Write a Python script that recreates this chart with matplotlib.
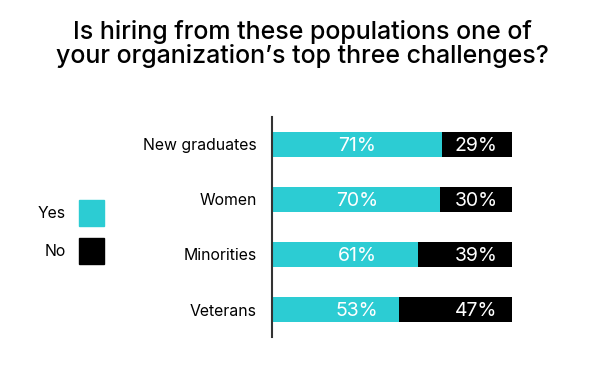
import matplotlib
matplotlib.use("Agg")
import matplotlib.pyplot as plt
from matplotlib.patches import Rectangle

plt.rcParams['font.family'] = ['Inter', 'DejaVu Sans']

# Данные
categories = ["New graduates", "Women", "Minorities", "Veterans"]
yes_values = [71, 70, 61, 53]
no_values = [29, 30, 39, 47]
series_names = ["Yes", "No"]

cyan = '#2CCCD3'
black = '#000000'
colors = [cyan, black]

fig = plt.figure(figsize=(6.05, 3.72), dpi=100)
ax = fig.add_axes([272 / 605, 1 - 337 / 372, 240 / 605, 220 / 372])

y = range(len(categories))
ax.barh(y, yes_values, height=0.45, color=cyan)
ax.barh(y, no_values, left=yes_values, height=0.45, color=black)

# Подписи процентов (фиксированные позиции)
for i in y:
    ax.text(35.5, i + 0.03, f"{yes_values[i]}%", color='white', fontsize=14,
            ha='center', va='center')
    ax.text(85, i + 0.03, f"{no_values[i]}%", color='white', fontsize=14,
            ha='center', va='center')

ax.set_xlim(0, 100)
ax.set_ylim(3.5, -0.5)
ax.set_yticks(list(y))
ax.set_yticklabels(categories, fontsize=11.4)
ax.tick_params(axis='y', length=0, pad=11)
ax.set_xticks([])
for s in ['top', 'right', 'bottom']:
    ax.spines[s].set_visible(False)
ax.spines['left'].set_color('#333333')
ax.spines['left'].set_linewidth(1.5)

# Заголовок
fig.text(0.5, 1 - 44 / 372, "Is hiring from these populations one of\nyour organization\u2019s top three challenges?",
         ha='center', va='center', fontsize=18, linespacing=1.05, fontweight='medium')

# Легенда (вручную)
legend_y = [213, 251]
for name, col, yc in zip(series_names, colors, legend_y):
    fig.add_artist(Rectangle((79 / 605, 1 - (yc + 13) / 372), 25 / 605, 26 / 372,
                             transform=fig.transFigure, color=col))
    fig.text(66 / 605, 1 - yc / 372, name, ha='right', va='center', fontsize=11.4)

fig.savefig('out.png', dpi=100)
